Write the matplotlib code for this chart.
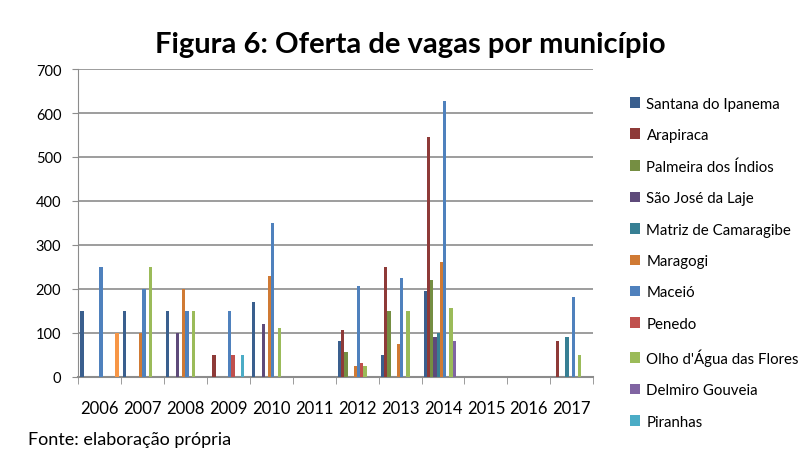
import matplotlib
matplotlib.use("Agg")
import matplotlib.pyplot as plt
import numpy as np

matplotlib.rcParams["font.family"] = ["Lato", "DejaVu Sans"]

# ---------------------------------------------------------------------------
# Dados
# ---------------------------------------------------------------------------
anos = ["2006", "2007", "2008", "2009", "2010", "2011",
        "2012", "2013", "2014", "2015", "2016", "2017"]

municipios = [
    "Santana do Ipanema", "Arapiraca", "Palmeira dos Índios", "São José da Laje",
    "Matriz de Camaragibe", "Maragogi", "Maceió", "Penedo",
    "Olho d'Água das Flores", "Delmiro Gouveia", "Piranhas", "",
]

santana = [150, 150, 150, 0, 170, 0, 80, 50, 195, 0, 0, 0]
arapiraca = [0, 0, 0, 50, 0, 0, 105, 250, 545, 0, 0, 80]
palmeira = [0, 0, 0, 0, 0, 0, 55, 150, 220, 0, 0, 0]
sao_jose = [0, 0, 100, 0, 120, 0, 0, 0, 90, 0, 0, 0]
matriz = [0, 0, 0, 0, 0, 0, 0, 0, 100, 0, 0, 90]
maragogi = [0, 100, 200, 0, 230, 0, 25, 75, 260, 0, 0, 0]
maceio = [250, 200, 150, 150, 350, 0, 205, 225, 628, 0, 0, 180]
penedo = [0, 0, 0, 50, 0, 0, 30, 0, 0, 0, 0, 0]
olho_dagua = [0, 250, 150, 0, 110, 0, 25, 150, 155, 0, 0, 50]
delmiro = [0, 0, 0, 0, 0, 0, 0, 0, 80, 0, 0, 0]
piranhas = [0, 0, 0, 50, 0, 0, 0, 0, 0, 0, 0, 0]
serie_12 = [100, 0, 0, 0, 0, 0, 0, 0, 0, 0, 0, 0]  # série fora da legenda

series = [santana, arapiraca, palmeira, sao_jose, matriz, maragogi,
          maceio, penedo, olho_dagua, delmiro, piranhas, serie_12]

cores = ["#3A5F8E", "#8E3A38", "#758E42", "#5E4A7A", "#377F94", "#D07A34",
         "#4F81BD", "#C0504D", "#9BBB59", "#8064A2", "#4BACC6", "#F79646"]

# ---------------------------------------------------------------------------
# Gráfico
# ---------------------------------------------------------------------------
fig = plt.figure(figsize=(8.09, 4.52), dpi=100)
ax = fig.add_axes([0.0964, 0.1648, 0.637, 0.680])

n = len(series)
w = 1 / (n + 1.5)
x = np.arange(len(anos))
handles = []
for i, (vals, cor) in enumerate(zip(series, cores)):
    b = ax.bar(x + (i - (n - 1) / 2) * w, vals, width=w, color=cor,
               edgecolor="none", zorder=3)
    if municipios[i]:
        handles.append((b, municipios[i]))

ax.set_xlim(-0.5, len(anos) - 0.5)
ax.set_ylim(0, 700)
ax.set_yticks(range(0, 701, 100))
ax.yaxis.grid(True, color="#8c8c8c", linewidth=1.2, zorder=0)
ax.set_axisbelow(True)

ax.set_xticks(x)
ax.set_xticklabels(anos, fontsize=12)
ax.set_xticks(np.arange(-0.5, len(anos), 1), minor=True)
ax.tick_params(axis="x", which="major", length=0, pad=17)
ax.tick_params(axis="x", which="minor", length=5, color="#8c8c8c", direction="out")
ax.tick_params(axis="y", length=4, color="#8c8c8c", labelsize=10.5, pad=8)

for s in ["top", "right"]:
    ax.spines[s].set_visible(False)
ax.spines["left"].set_color("#8c8c8c")
ax.spines["bottom"].set_color("#8c8c8c")
ax.spines["bottom"].set_linewidth(1.5)

fig.text(0.507, 0.9, "Figura 6: Oferta de vagas por município",
         ha="center", va="center", fontsize=21, fontweight="bold")

leg = fig.legend([h for h, _ in handles], [lbl for _, lbl in handles],
                 loc="upper left", bbox_to_anchor=(0.762, 0.814),
                 frameon=False, fontsize=10.8, handlelength=0.7, handleheight=0.7,
                 handletextpad=0.4, labelspacing=1.16)

fig.text(0.034, 0.026, "Fonte: elaboração própria", ha="left", va="center",
         fontsize=13)

fig.savefig("out.png", dpi=100)
